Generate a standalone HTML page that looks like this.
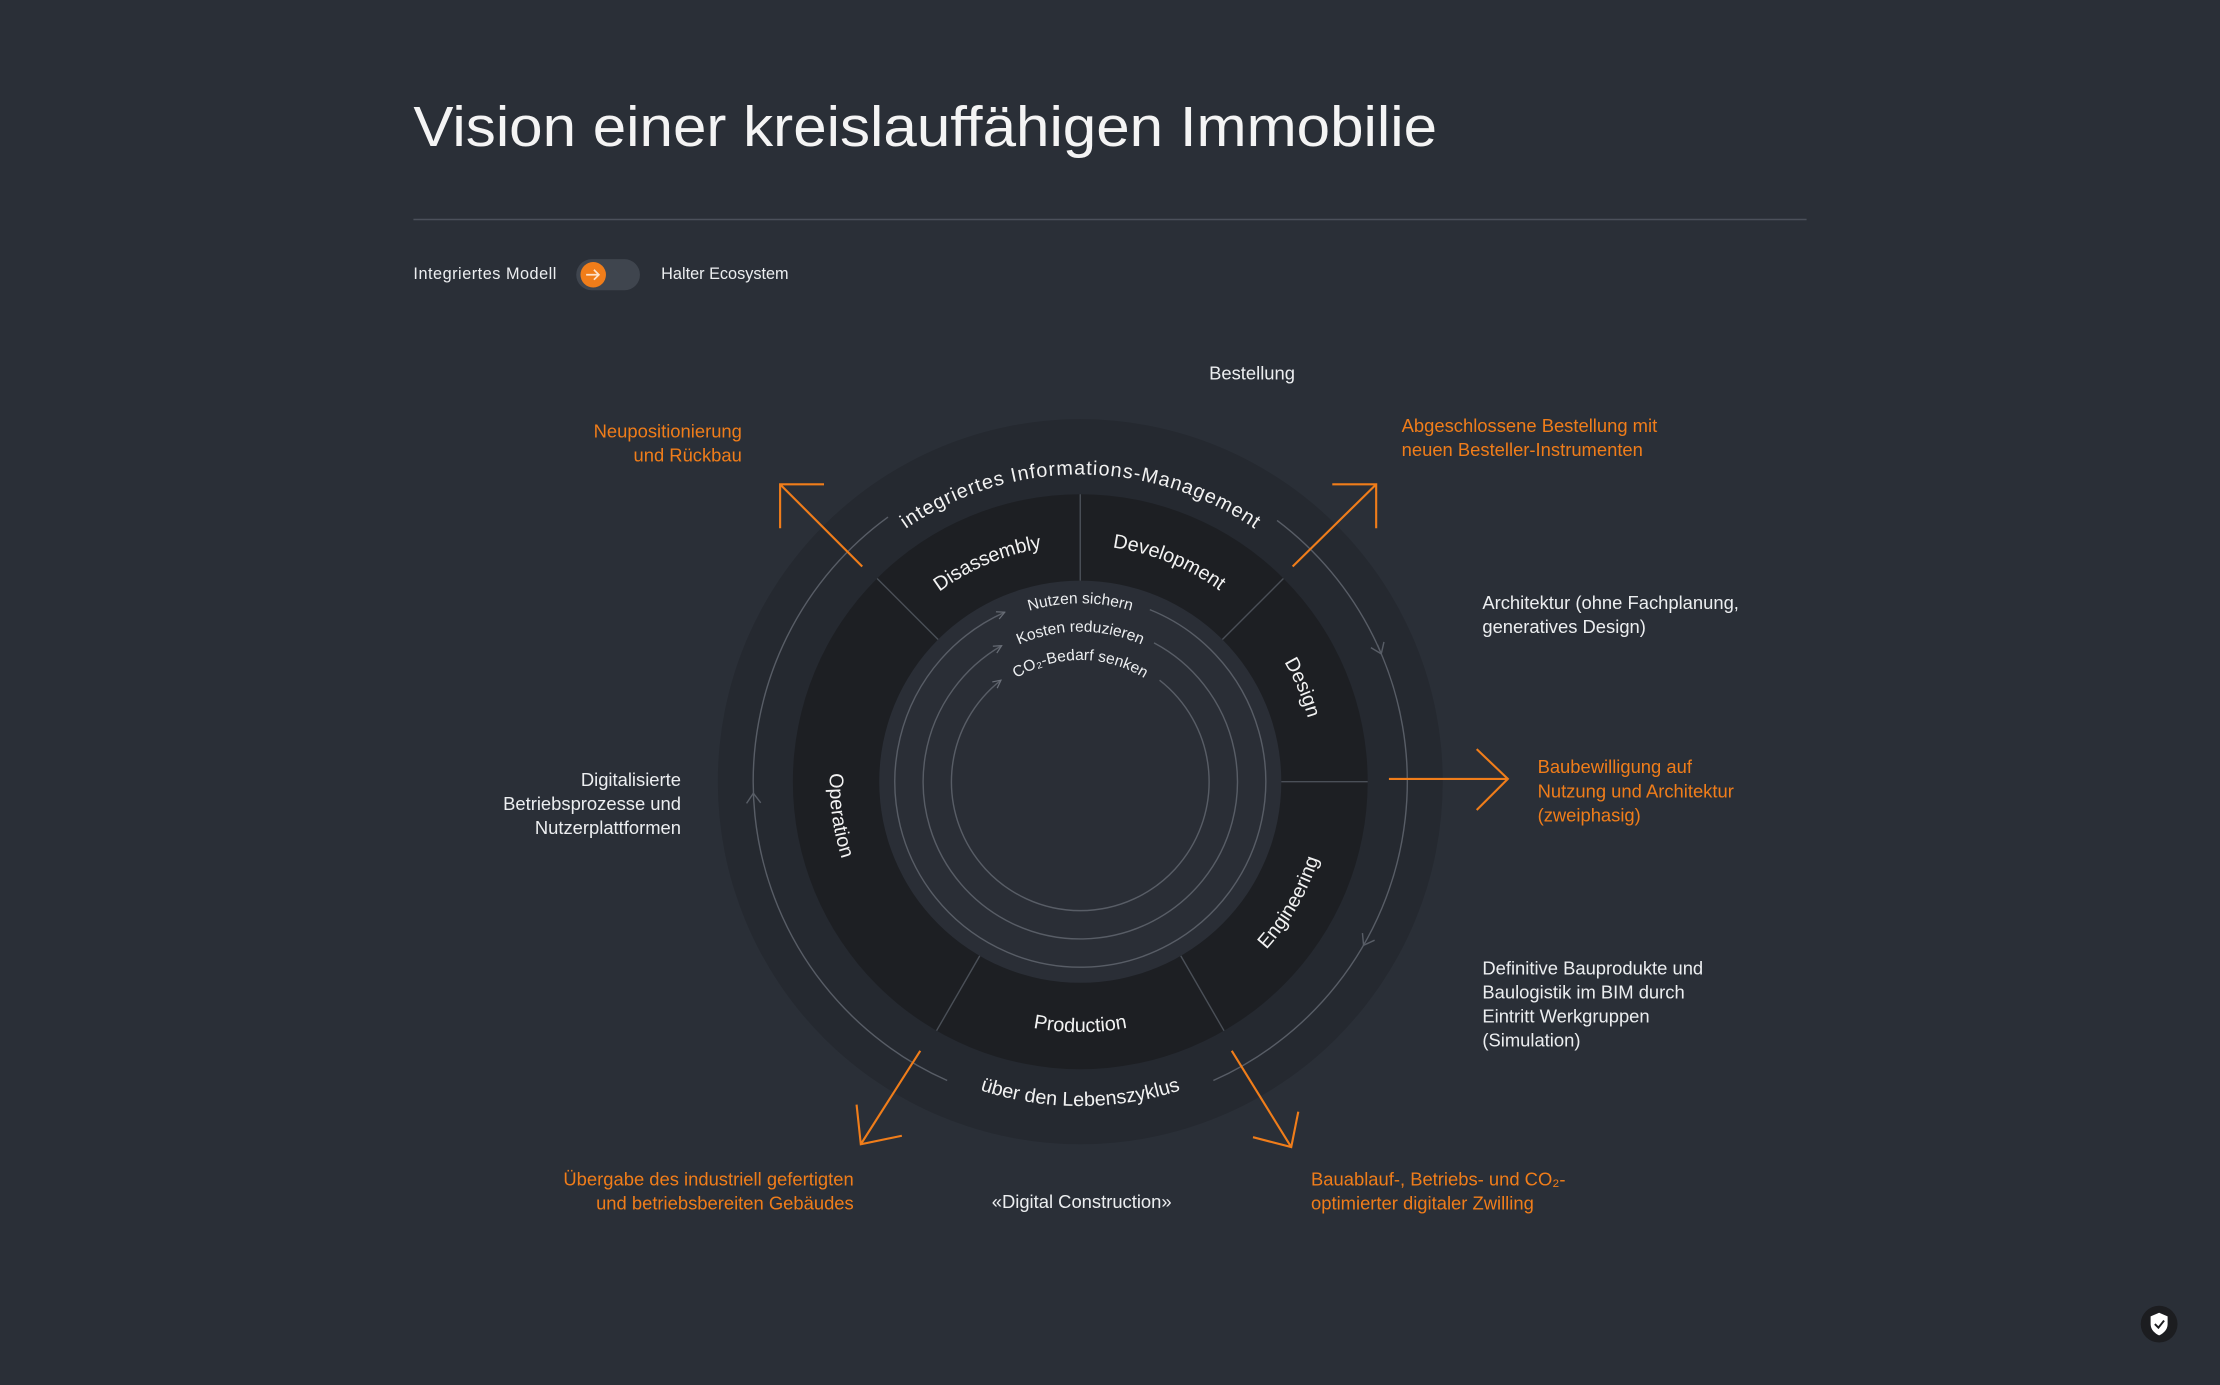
<!DOCTYPE html>
<html><head><meta charset="utf-8"><style>
html,body{margin:0;padding:0;background:#2a2f37;}
svg{display:block}
text{font-family:"Liberation Sans",sans-serif;}
.w{fill:#eceef0;font-size:13px}
.o{fill:#f07d1a;font-size:13px}
.seg{fill:#f2f2f2;font-size:14px}
.inn{fill:#eceef0;font-size:11px}
</style></head><body>
<svg width="2220" height="1385" viewBox="0 0 1568 978" preserveAspectRatio="none" xmlns="http://www.w3.org/2000/svg">
<defs>
<marker id="ch" viewBox="0 0 10 10" refX="9" refY="5" markerWidth="7" markerHeight="7" orient="auto" markerUnits="userSpaceOnUse">
<path d="M1 1 L9 5 L1 9" fill="none" stroke="#6a6f78" stroke-width="1.2"/>
</marker>
<path id="pTop" d="M559.1 477.8 A217 217 0 0 1 966.9 477.8"/>
<path id="pDis" d="M596.2 560.7 A167 167 0 0 1 885.1 438.1"/>
<path id="pDev" d="M638.9 440.3 A167 167 0 0 1 929.9 557.8"/>
<path id="pDes" d="M754.3 385.2 A167 167 0 0 1 876.9 674.1"/>
<path id="pEng" d="M732.3 726.3 A177 177 0 0 0 898.6 438.2"/>
<path id="pPro" d="M596.7 612.5 A177 177 0 0 0 929.3 612.5"/>
<path id="pOpe" d="M679.9 395.7 A177 177 0 0 0 726.2 725.1"/>
<path id="pBot" d="M547.8 630.3 A229 229 0 0 0 978.2 630.3"/>
<path id="pI1" d="M644.6 508.9 A126 126 0 0 1 881.4 508.9"/>
<path id="pI2" d="M663.4 515.7 A106 106 0 0 1 862.6 515.7"/>
<path id="pI3" d="M682.2 522.6 A86 86 0 0 1 843.8 522.6"/>
</defs>
<rect width="1568" height="978" fill="#2a2f37"/>
<text x="292" y="103" fill="#f4f4f4" font-size="40" textLength="723" lengthAdjust="spacingAndGlyphs">Vision einer kreislauffähigen Immobilie</text>
<line x1="292" y1="155" x2="1276" y2="155" stroke="#4b505a" stroke-width="1"/>
<text x="292" y="197" fill="#eceef0" font-size="11.5" textLength="101">Integriertes Modell</text>
<rect x="407" y="183" width="45" height="22" rx="11" fill="#3f454e"/>
<circle cx="419" cy="194" r="9" fill="#f07d1a"/>
<path d="M414 194 H423 M419.5 190.5 L423 194 L419.5 197.5" stroke="#fde3cc" stroke-width="1.2" fill="none"/>
<text x="467" y="197" fill="#eceef0" font-size="11.5">Halter Ecosystem</text>

<circle cx="763" cy="552" r="256" fill="#252930"/>
<circle cx="763" cy="552" r="203" fill="#1d1f23"/>
<circle cx="763" cy="552" r="142" fill="#2a2e36"/>
<g stroke="#4a4f57" stroke-width="1">
<line x1="763" y1="410" x2="763" y2="349"/>
<line x1="863.4" y1="451.6" x2="906.5" y2="408.5"/>
<line x1="905" y1="552" x2="966" y2="552"/>
<line x1="834" y1="675" x2="864.5" y2="727.8"/>
<line x1="692" y1="675" x2="661.5" y2="727.8"/>
<line x1="662.6" y1="451.6" x2="619.5" y2="408.5"/>
</g>
<g fill="none" stroke="#585d66" stroke-width="1">
<path d="M902 367.5 A231 231 0 0 1 857 763"/>
<path d="M669 763 A231 231 0 0 1 627.2 365.1"/>
<path d="M972.9 455.3 L975.6 461.7 M977.5 453.3 L975.6 461.7 L968.3 457.3" />
<path d="M970.9 663.9 L963.1 667.5 L962.3 658.9"/>
<path d="M527.3 567.3 L532.1 560.1 L537.3 566.9"/>
<path d="M812.1 430.5 A131 131 0 1 1 709.7 432.3" marker-end="url(#ch)"/>
<path d="M815.1 454 A111 111 0 1 1 707.5 455.9" marker-end="url(#ch)"/>
<path d="M819 480.3 A91 91 0 1 1 707 480.3" marker-end="url(#ch)"/>
</g>

<text class="seg" font-size="14.5"><textPath href="#pTop" startOffset="50%" text-anchor="middle" textLength="262">integriertes Informations-Management</textPath></text>
<text class="seg"><textPath href="#pDis" startOffset="50%" text-anchor="middle">Disassembly</textPath></text>
<text class="seg"><textPath href="#pDev" startOffset="50%" text-anchor="middle">Development</textPath></text>
<text class="seg"><textPath href="#pDes" startOffset="50%" text-anchor="middle">Design</textPath></text>
<text class="seg"><textPath href="#pEng" startOffset="50%" text-anchor="middle">Engineering</textPath></text>
<text class="seg"><textPath href="#pPro" startOffset="50%" text-anchor="middle">Production</textPath></text>
<text class="seg"><textPath href="#pOpe" startOffset="50%" text-anchor="middle">Operation</textPath></text>
<text class="seg"><textPath href="#pBot" startOffset="50%" text-anchor="middle">über den Lebenszyklus</textPath></text>
<text class="inn"><textPath href="#pI1" startOffset="50%" text-anchor="middle">Nutzen sichern</textPath></text>
<text class="inn"><textPath href="#pI2" startOffset="50%" text-anchor="middle">Kosten reduzieren</textPath></text>
<text class="inn"><textPath href="#pI3" startOffset="50%" text-anchor="middle">CO₂-Bedarf senken</textPath></text>

<g fill="none" stroke="#f07d1a" stroke-width="1.5">
<path d="M609 400 L551 342 M582 342 H551 V373"/>
<path d="M913 400 L972 342 M941 342 H972 V373"/>
<path d="M981 550 H1065 M1043 529 L1065 550 L1043 572"/>
<path d="M650 742 L608 808 M605 780 L608 808 L637 802"/>
<path d="M870 742 L912 810 M885 803 L912 810 L917 785"/>
</g>

<text class="w" x="854" y="268">Bestellung</text>
<text class="o" text-anchor="end"><tspan x="524" y="309">Neupositionierung</tspan><tspan x="524" y="326">und Rückbau</tspan></text>
<text class="o"><tspan x="990" y="305">Abgeschlossene Bestellung mit</tspan><tspan x="990" y="322">neuen Besteller-Instrumenten</tspan></text>
<text class="w"><tspan x="1047" y="430">Architektur (ohne Fachplanung,</tspan><tspan x="1047" y="447">generatives Design)</tspan></text>
<text class="o"><tspan x="1086" y="546">Baubewilligung auf</tspan><tspan x="1086" y="563">Nutzung und Architektur</tspan><tspan x="1086" y="580">(zweiphasig)</tspan></text>
<text class="w"><tspan x="1047" y="688">Definitive Bauprodukte und</tspan><tspan x="1047" y="705">Baulogistik im BIM durch</tspan><tspan x="1047" y="722">Eintritt Werkgruppen</tspan><tspan x="1047" y="739">(Simulation)</tspan></text>
<text class="w" text-anchor="end"><tspan x="481" y="555">Digitalisierte</tspan><tspan x="481" y="572">Betriebsprozesse und</tspan><tspan x="481" y="589">Nutzerplattformen</tspan></text>
<text class="o" text-anchor="end"><tspan x="603" y="837">Übergabe des industriell gefertigten</tspan><tspan x="603" y="854">und betriebsbereiten Gebäudes</tspan></text>
<text class="w" x="764" y="853" text-anchor="middle">«Digital Construction»</text>
<text class="o"><tspan x="926" y="837">Bauablauf-, Betriebs- und CO₂-</tspan><tspan x="926" y="854">optimierter digitaler Zwilling</tspan></text>

<circle cx="1525" cy="935" r="13" fill="#1c1d20"/>
<path d="M1525 927 L1531 929.5 V935 C1531 939 1528 941.5 1525 943 C1522 941.5 1519 939 1519 935 V929.5 Z" fill="#fff"/>
<path d="M1522 935 L1524.5 937.5 L1528.5 932.5" stroke="#1c1d20" stroke-width="1.4" fill="none"/>
</svg>
</body></html>
